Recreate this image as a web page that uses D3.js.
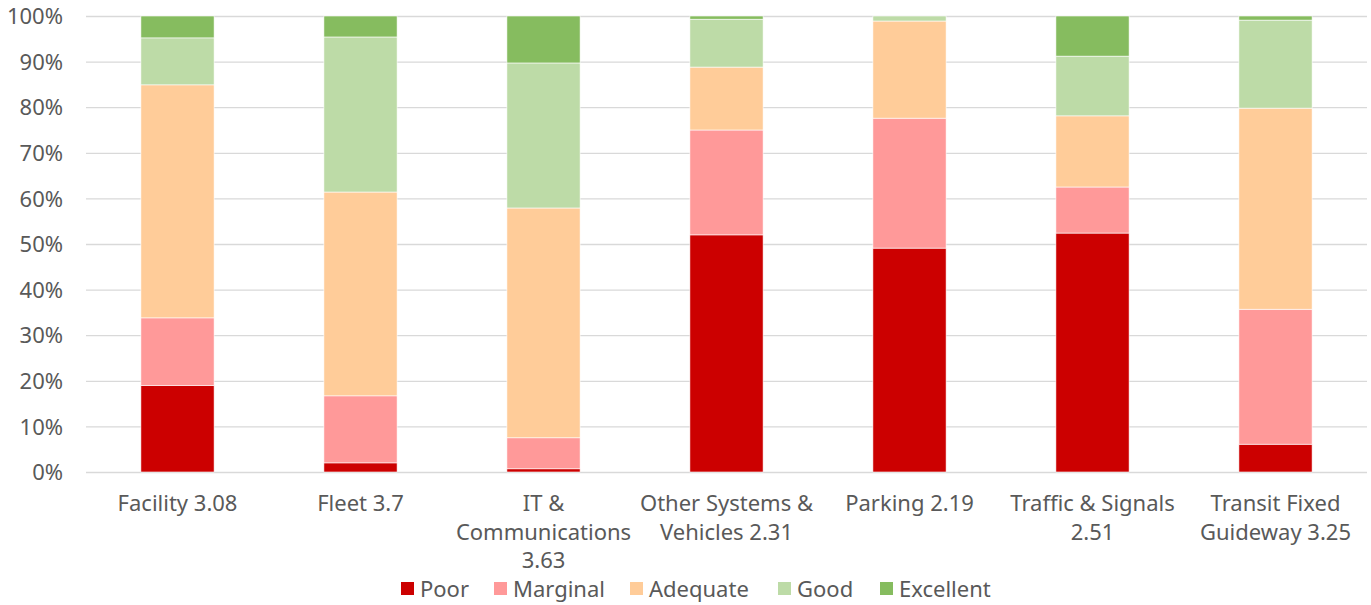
<!DOCTYPE html>
<html>
<head>
<meta charset="utf-8">
<script src="https://cdn.jsdelivr.net/npm/d3@7"></script>
<style>
  body { margin: 0; background: #fff; }
  text { font-family: "Noto Sans", "Open Sans", sans-serif; fill: #595959; }
</style>
</head>
<body>
<svg width="1371" height="605"></svg>
<script>
// categories (label lines as shown under each bar)
var categories = [
  ["Facility 3.08"],
  ["Fleet 3.7"],
  ["IT &", "Communications", "3.63"],
  ["Other Systems &", "Vehicles 2.31"],
  ["Parking 2.19"],
  ["Traffic & Signals", "2.51"],
  ["Transit Fixed", "Guideway 3.25"]
];
var seriesNames = ["Poor", "Marginal", "Adequate", "Good", "Excellent"];
var colors = ["#CC0000", "#FF9999", "#FFCC99", "#BDDBA7", "#86BC5F"];

// percent of assets per condition, one array per series
var poor      = [19.0,  2.0,  0.7, 52.0, 49.1, 52.4,  6.1];
var marginal  = [14.8, 14.7,  6.8, 23.0, 28.5, 10.1, 29.6];
var adequate  = [51.1, 44.7, 50.4, 13.8, 21.3, 15.6, 44.1];
var good      = [10.3, 34.0, 31.8, 10.5,  1.1, 13.1, 19.3];
var excellent = [ 4.8,  4.6, 10.3,  0.7,  0.0,  8.8,  0.9];
var yTicks = [0, 10, 20, 30, 40, 50, 60, 70, 80, 90, 100];

var svg = d3.select("svg"),
    margin = {top: 16, right: 4, bottom: 133, left: 86},
    width = +svg.attr("width") - margin.left - margin.right,
    height = +svg.attr("height") - margin.top - margin.bottom;

var series = [poor, marginal, adequate, good, excellent];
var rows = categories.map(function(c, i) {
  var r = {key: i};
  seriesNames.forEach(function(s, j) { r[s] = series[j][i]; });
  return r;
});

var x = d3.scaleBand().domain(d3.range(categories.length))
    .range([0, width]).paddingInner(0.6).paddingOuter(0.3);
var y = d3.scaleLinear().domain([0, 100]).range([height, 0]);

var g = svg.append("g")
    .attr("transform", "translate(" + margin.left + "," + margin.top + ")");

// gridlines
g.append("g")
    .call(d3.axisLeft(y).tickValues(yTicks).tickSize(-width).tickFormat(""))
    .call(function(a) {
      a.select(".domain").remove();
      a.selectAll("line").attr("stroke", "#D9D9D9").attr("stroke-width", 1.3);
    });

// y labels
g.append("g")
    .call(d3.axisLeft(y).tickValues(yTicks).tickSize(0).tickPadding(23)
      .tickFormat(function(d) { return d + "%"; }))
    .call(function(a) {
      a.select(".domain").remove();
      a.selectAll("text").attr("font-size", 22).attr("dy", "0.35em")
        .attr("font-family", null);
    });

var stack = d3.stack().keys(seriesNames)(rows);

g.selectAll(".layer")
  .data(stack)
  .enter().append("g")
    .attr("class", "layer")
    .attr("fill", function(d, i) { return colors[i]; })
  .selectAll("rect")
  .data(function(d) { return d; })
  .enter().append("rect")
    .attr("x", function(d) { return x(d.data.key); })
    .attr("y", function(d) { return y(d[1]); })
    .attr("width", x.bandwidth())
    .attr("height", function(d) { return y(d[0]) - y(d[1]); })
    .attr("stroke", "#fff")
    .attr("stroke-width", 0.6);

// x labels
var xAxis = g.append("g")
    .attr("transform", "translate(0," + height + ")")
    .call(d3.axisBottom(x).tickSize(0).tickFormat(""));
xAxis.select(".domain").remove();
xAxis.selectAll(".tick").each(function(d) {
  var t = d3.select(this).append("text")
      .attr("text-anchor", "middle")
      .attr("font-size", 22)
      .attr("y", 39);
  categories[d].forEach(function(line, k) {
    t.append("tspan").attr("x", 0).attr("dy", k === 0 ? 0 : 28.5).text(line);
  });
});

// legend
var legendX = [420, 513, 649, 797, 899];
var legend = svg.append("g").attr("transform", "translate(0,588)");
seriesNames.forEach(function(s, i) {
  legend.append("rect")
      .attr("x", legendX[i] - 19).attr("y", -6)
      .attr("width", 13).attr("height", 13)
      .attr("fill", colors[i]);
  legend.append("text")
      .attr("x", legendX[i]).attr("y", 1).attr("dy", "0.35em")
      .attr("font-size", 22)
      .text(s);
});
</script>
</body>
</html>
